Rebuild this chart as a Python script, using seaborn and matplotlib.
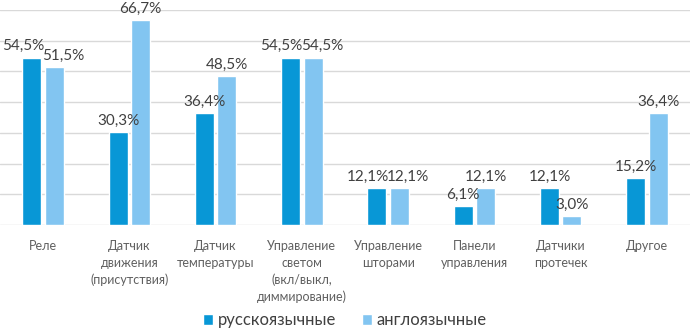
import matplotlib
matplotlib.use("Agg")
import matplotlib.pyplot as plt
import seaborn as sns
import pandas as pd

categories = ["Реле", "Датчик\nдвижения\n(присутствия)", "Датчик\nтемпературы",
              "Управление\nсветом\n(вкл/выкл,\nдиммирование)", "Управление\nшторами",
              "Панели\nуправления", "Датчики\nпротечек", "Другое"]
series_names = ["русскоязычные", "англоязычные"]
russian = [54.5, 30.3, 36.4, 54.5, 12.1, 6.1, 12.1, 15.2]
english = [51.5, 66.7, 48.5, 54.5, 12.1, 12.1, 3.0, 36.4]
colors = ["#0897d6", "#82c5f1"]

sns.set_theme(style="white")
plt.rcParams["font.family"] = ["Lato", "DejaVu Sans"]

df = pd.DataFrame({
    "cat": categories * 2,
    "group": [series_names[0]] * len(categories) + [series_names[1]] * len(categories),
    "val": russian + english,
})

fig = plt.figure(figsize=(6.9, 3.3), dpi=100)
ax = fig.add_axes([0.0, 0.318, 1.0, 0.652])
sns.barplot(data=df, x="cat", y="val", hue="group", palette=colors,
            width=0.52, gap=0.15, ax=ax, saturation=1, legend=True)

ax.set_ylim(0, 70)
ax.set_xlim(-0.5, len(categories) - 0.5)
ax.set_yticks(range(0, 71, 10))
ax.yaxis.grid(True, color="#d9d9d9", linewidth=1)
ax.set_axisbelow(True)
ax.tick_params(axis="y", left=False, labelleft=False)
ax.tick_params(axis="x", bottom=False, labelsize=9, labelcolor="#606060", pad=5)
for lbl in ax.get_xticklabels():
    lbl.set_linespacing(1.45)
for s in ax.spines.values():
    s.set_visible(False)
ax.set_xlabel("")
ax.set_ylabel("")

# value labels; when a pair of bars is nearly level, push the two labels apart
for k, (cont, vals) in enumerate(zip(ax.containers, [russian, english])):
    anns = ax.bar_label(cont, labels=[f"{v:.1f}%".replace(".", ",") for v in vals],
                        padding=3, fontsize=11, color="#404040")
    for i, ann in enumerate(anns):
        if abs(russian[i] - english[i]) < 5:
            dx = -6.5 if k == 0 else 6.5
            ann.xyann = (dx, ann.xyann[1])

handles, labels = ax.get_legend_handles_labels()
ax.legend(handles, labels, loc="center", bbox_to_anchor=(0.5, 0.03),
          bbox_transform=fig.transFigure, ncol=2, frameon=False,
          fontsize=12, handlelength=0.6, handleheight=0.6, handletextpad=0.3,
          columnspacing=1.5, labelcolor="#404040")

fig.savefig("out.png", dpi=100)
